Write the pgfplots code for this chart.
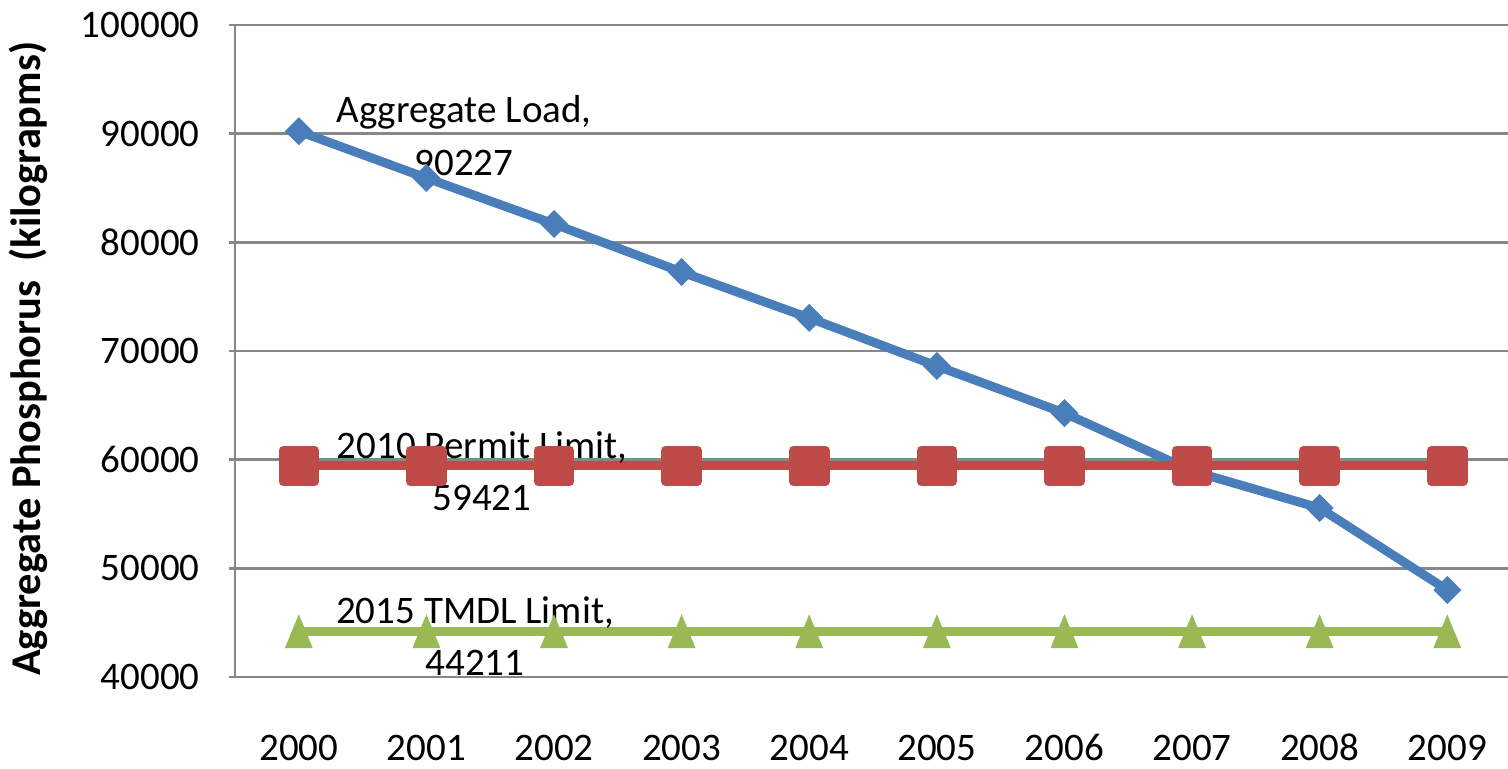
\documentclass[border=0pt]{standalone}
\usepackage{pgfplots}
\pgfplotsset{compat=1.18}
\usepackage{fontspec}
\setmainfont{Carlito}

\definecolor{loadblue}{HTML}{4A7EBB}
\definecolor{permitred}{HTML}{BE4B48}
\definecolor{tmdlgreen}{HTML}{98B954}
\definecolor{gridgray}{HTML}{878787}

% Excel-like markers
\pgfdeclareplotmark{xdiamond}{%
  \pgfpathmoveto{\pgfqpoint{0pt}{\pgfplotmarksize}}%
  \pgfpathlineto{\pgfqpoint{\pgfplotmarksize}{0pt}}%
  \pgfpathlineto{\pgfqpoint{0pt}{-\pgfplotmarksize}}%
  \pgfpathlineto{\pgfqpoint{-\pgfplotmarksize}{0pt}}%
  \pgfpathclose\pgfusepathqfill}
\pgfdeclareplotmark{xtriangle}{%
  \pgfpathmoveto{\pgfqpoint{0pt}{1.06\pgfplotmarksize}}%
  \pgfpathlineto{\pgfqpoint{0.875\pgfplotmarksize}{-1.06\pgfplotmarksize}}%
  \pgfpathlineto{\pgfqpoint{-0.875\pgfplotmarksize}{-1.06\pgfplotmarksize}}%
  \pgfpathclose\pgfusepathqfill}

\begin{document}
\begin{tikzpicture}[x=1pt,y=1pt]
\useasboundingbox (0,0) rectangle (754,384);
\begin{axis}[
    at={(117.5pt,45.5pt)}, anchor=south west,
    scale only axis, width=636.5pt, height=326pt,
    xmin=-0.5, xmax=9.476, ymin=40000, ymax=100000,
    clip=false,
    xtick={0,1,2,3,4,5,6,7,8,9},
    xticklabels={2000,2001,2002,2003,2004,2005,2006,2007,2008,2009},
    ytick={40000,50000,60000,70000,80000,90000,100000},
    scaled y ticks=false,
    yticklabel style={/pgf/number format/fixed, /pgf/number format/1000 sep={},
        /pgf/number format/assume math mode=true,
        anchor=east, inner sep=0pt, xshift=-14.5pt},
    xticklabel style={anchor=base, inner sep=0pt, yshift=-38.5pt},
    tick label style={font=\fontsize{19.5}{23}\selectfont},
    axis x line*=bottom, axis y line*=left,
    axis line style={gridgray, line width=1.2pt},
    ymajorgrids, grid style={gridgray, line width=1.2pt},
    major x tick style={draw=none},
    tick align=outside, major tick length=3pt,
    major y tick style={gridgray, line width=1.2pt},
    ylabel={Aggregate Phosphorus\ \ (kilograpms)},
    ylabel style={at={(axis description cs:-0.162,0.488)}, anchor=center,
        font=\bfseries\fontsize{21.2}{25}\selectfont},
    every axis plot/.append style={line width=4.5pt, line join=round},
]
\addplot[loadblue, mark=xdiamond, mark size=7pt, mark options={solid, fill=loadblue}]
  coordinates {(0,90227) (1,85920) (2,81690) (3,77270) (4,73040)
               (5,68620) (6,64290) (7,58960) (8,55550) (9,48010)};
\addplot[permitred, mark=square*, mark size=7.9pt, mark options={solid, fill=permitred}]
  coordinates {(0,59421) (1,59421) (2,59421) (3,59421) (4,59421)
               (5,59421) (6,59421) (7,59421) (8,59421) (9,59421)};
\addplot[tmdlgreen, mark=xtriangle, mark size=8pt, mark options={solid, fill=tmdlgreen}]
  coordinates {(0,44211) (1,44211) (2,44211) (3,44211) (4,44211)
               (5,44211) (6,44211) (7,44211) (8,44211) (9,44211)};

\begin{scope}[every node/.style={anchor=base, inner sep=0pt, font=\fontsize{19.5}{23}\selectfont}]
\node at (1.295,91074) {Aggregate Load,};
\node at (1.295,86196) {90227};
\node at (1.436,60153) {2010 Permit Limit,};
\node at (1.436,55368) {59421};
\node at (1.381,44969) {2015 TMDL Limit,};
\node at (1.381,40184) {44211};
\end{scope}
\end{axis}
\end{tikzpicture}
\end{document}
